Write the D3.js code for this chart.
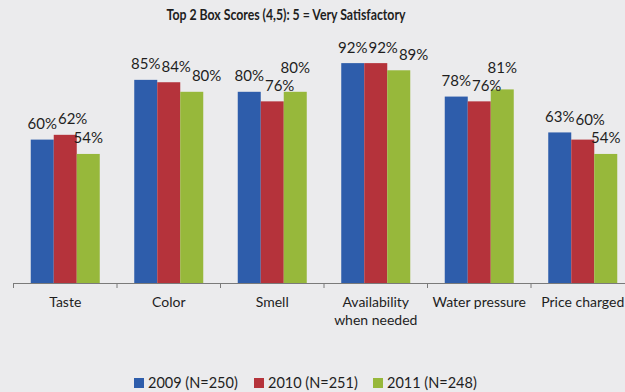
<!DOCTYPE html>
<html>
<head>
<meta charset="utf-8">
<script src="https://cdn.jsdelivr.net/npm/d3@7"></script>
<style>
  html, body { margin: 0; padding: 0; background: #ebebed; }
  svg { display: block; }
  text { font-family: Lato, "Open Sans", sans-serif; fill: #1e1e1e; }
</style>
</head>
<body>
<svg id="chart" width="625" height="392"></svg>
<script>
// Survey attributes and Top-2-box shares per survey year
const categories = ["Taste", "Color", "Smell", "Availability\nwhen needed", "Water pressure", "Price charged"];
const seriesNames = ["2009 (N=250)", "2010 (N=251)", "2011 (N=248)"];
const values2009 = [0.60, 0.85, 0.80, 0.92, 0.78, 0.63];
const values2010 = [0.62, 0.84, 0.76, 0.92, 0.76, 0.60];
const values2011 = [0.54, 0.80, 0.80, 0.89, 0.81, 0.54];
const seriesColors = ["#2e5dab", "#b5333b", "#97b83b"];

const seriesValues = [values2009, values2010, values2011];
const svg = d3.select("#chart");
const W = 625, H = 392;

const axisY = 283;
const x0 = d3.scaleBand().domain(categories).range([13.5, 634.5]).paddingInner(0).paddingOuter(0);
const x1 = d3.scaleBand().domain(seriesNames)
  .range([x0.bandwidth() / 6, x0.bandwidth() * 5 / 6]);
const y = d3.scaleLinear().domain([0, 1]).range([axisY, 44]);
const pct = d3.format(".0%");

// Title
svg.append("text")
  .attr("x", 286).attr("y", 20)
  .attr("text-anchor", "middle")
  .attr("font-weight", "bold")
  .attr("font-size", 14.5)
  .attr("textLength", 239)
  .attr("lengthAdjust", "spacingAndGlyphs")
  .text("Top 2 Box Scores (4,5): 5 = Very Satisfactory");

// Bars
const groups = svg.append("g").selectAll("g")
  .data(categories)
  .join("g")
  .attr("transform", d => `translate(${x0(d)},0)`);

groups.selectAll("rect")
  .data((c, ci) => seriesNames.map((s, si) => ({ s, si, v: seriesValues[si][ci] })))
  .join("rect")
  .attr("x", d => x1(d.s))
  .attr("y", d => y(d.v))
  .attr("width", x1.bandwidth())
  .attr("height", d => axisY - y(d.v))
  .attr("fill", d => seriesColors[d.si]);

// Category axis (line with tick marks between categories)
const axisG = svg.append("g").attr("transform", `translate(0,${axisY})`);
axisG.append("path").attr("stroke", "#7a7a7a").attr("fill", "none").attr("d", `M13.5,0.5H${W}`);
axisG.selectAll(".sep")
  .data(categories)
  .join("line")
  .attr("x1", d => x0(d)).attr("x2", d => x0(d))
  .attr("y1", 0).attr("y2", 5)
  .attr("stroke", "#7a7a7a");

// Category labels (multi-line where needed)
const catLabels = svg.append("g").selectAll("text")
  .data(categories)
  .join("text")
  .attr("text-anchor", "middle")
  .attr("font-size", 14)
  .attr("transform", d => `translate(${x0(d) + x0.bandwidth() / 2},307)`);
catLabels.selectAll("tspan")
  .data(d => d.split("\n"))
  .join("tspan")
  .attr("x", 0)
  .attr("dy", (d, i) => i === 0 ? 0 : 18)
  .text(d => d);

// Value labels with simple collision handling inside each group:
// a label clearly higher than its neighbour is lifted, otherwise it slides
// right; if sliding would run off the page, the neighbour is lifted instead.
const labelGap = 10.5, lineH = 18;
const collide = (a, b) => Math.abs(a.y - b.y) < lineH &&
  a.left < b.left + b.w + 1 && b.left < a.left + a.w + 1;

groups.each(function (c, ci) {
  const g = d3.select(this);
  const placed = [];
  seriesNames.forEach((s, si) => {
    const v = seriesValues[si][ci];
    const cx = x1(s) + x1.bandwidth() / 2;
    const t = g.append("text")
      .attr("font-size", 15)
      .attr("text-anchor", "middle")
      .text(pct(v));
    const w = t.node().getComputedTextLength();
    const lab = { left: cx - w / 2, w, y: y(v) - labelGap, t };
    const prev = placed[placed.length - 1];
    if (prev && collide(prev, lab)) {
      const dy = prev.y - lab.y;
      if (dy > 5) {
        lab.y = prev.y - lineH;
      } else {
        const newLeft = prev.left + prev.w + 1;
        if (dy < -5 && x0(c) + newLeft + lab.w > W - 1) {
          prev.y = lab.y - lineH;
          const pp = placed[placed.length - 2];
          if (pp && collide(pp, prev)) prev.left = pp.left + pp.w + 1;
        } else {
          lab.left = newLeft;
        }
      }
    }
    placed.push(lab);
  });
  placed.forEach(l => l.t.attr("x", l.left + l.w / 2).attr("y", l.y));
});

// Legend
const legendItems = [134, 254, 373];
const legend = svg.append("g").selectAll("g")
  .data(seriesNames)
  .join("g")
  .attr("transform", (d, i) => `translate(${legendItems[i]},378)`);
legend.append("rect")
  .attr("width", 10).attr("height", 10)
  .attr("fill", (d, i) => seriesColors[i]);
legend.append("text")
  .attr("x", 14).attr("y", 10)
  .attr("font-size", 14.5)
  .text(d => d);
</script>
</body>
</html>
